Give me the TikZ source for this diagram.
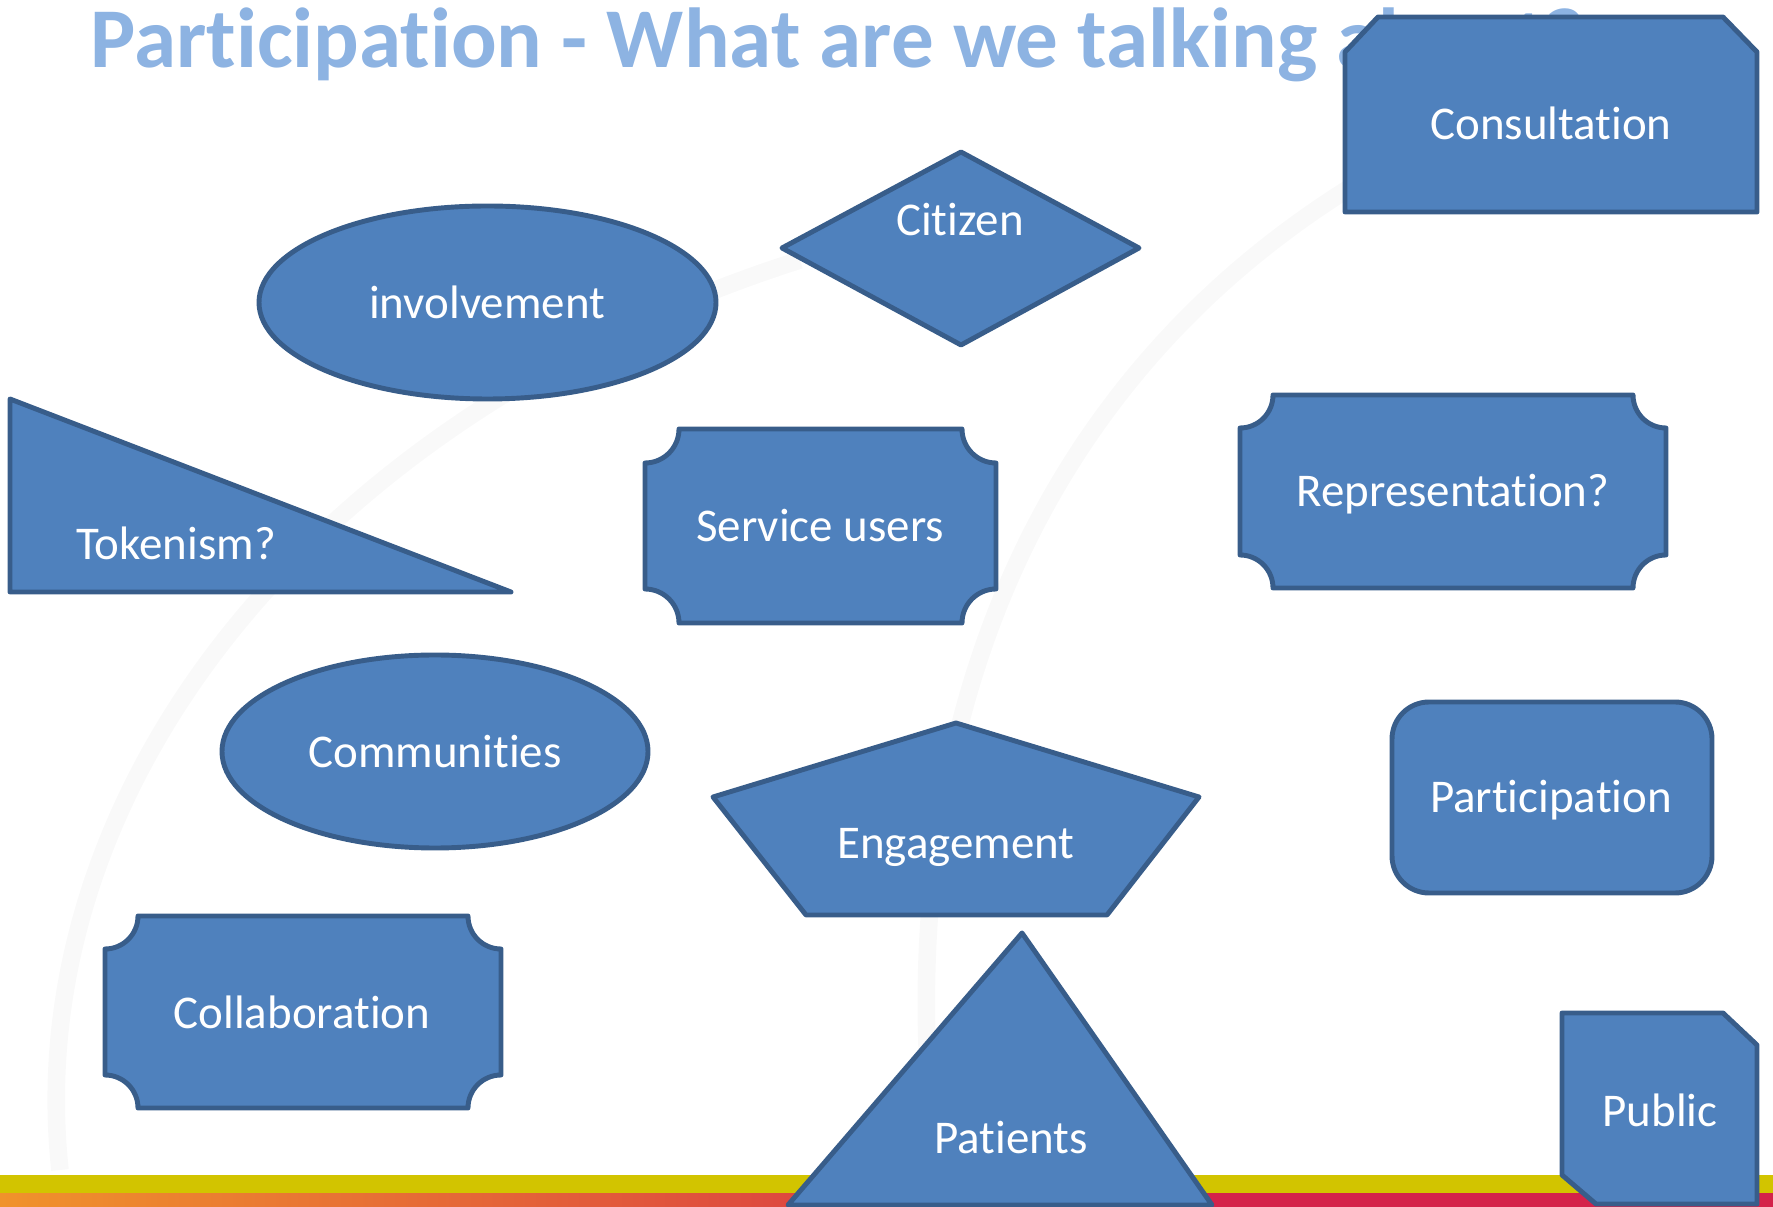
\documentclass[tikz,border=0pt]{standalone}
\usepackage{fontspec}
\setmainfont{Carlito}[Ligatures=NoCommon]
\usetikzlibrary{calc}
\usepackage{xcolor}
\definecolor{shapeblue}{HTML}{4F81BD}
\definecolor{shapeedge}{HTML}{385D8A}
\definecolor{titleblue}{HTML}{8DB3E2}
\definecolor{bandyellow}{HTML}{D2C400}
\definecolor{bandorange}{HTML}{F0922B}
\definecolor{bandred}{HTML}{D4234A}

% placa con esquinas concavas: [radio]{x1}{y1}{x2}{y2}
\newcommand{\plaque}[5][33]{%
  \draw[blob] (#2+#1,#3) -- (#4-#1,#3) arc (180:90:#1) -- (#4,#5-#1) arc (270:180:#1)
    -- (#2+#1,#5) arc (0:-90:#1) -- (#2,#3+#1) arc (90:0:#1) -- cycle;}

\begin{document}
\begin{tikzpicture}[
    x=0.01cm, y=-0.01cm,
    % Estilos de las formas
    blob/.style={
        fill=shapeblue,
        draw=shapeedge,
        line width=1.4pt,
        line join=round
    },
    % Estilos del texto
    word/.style={text=white, font=\fontsize{13.35}{16}\selectfont, anchor=base, inner sep=0pt},
    swirl/.style={draw=black!2.5, line width=5pt}
]
\useasboundingbox (0,0) rectangle (1773,1207);

% -- Fondo --
\draw[swirl] (60,1170) .. controls (20,800) and (300,420) .. (800,260);
\draw[swirl] (930,1100) .. controls (900,700) and (1050,300) .. (1500,110);

% -- Titulo --
\node[anchor=base west, inner sep=0pt, text=titleblue,
      font=\fontsize{24.2}{29}\selectfont\bfseries] (title) at (90,68)
      {Participation - What are we talking about?};

% -- Bandas inferiores --
\fill[bandyellow] (0,1175) rectangle (1773,1194);
\shade[left color=bandorange, right color=bandred] (0,1193) rectangle (1200,1207);
\fill[bandred] (1199,1193) rectangle (1773,1207);

% -- Fila Superior --
\draw[blob] (1345,52) -- (1378,17) -- (1723,17) -- (1757,52) -- (1757,212) -- (1345,212) -- cycle;
\node[word] (consultation) at (1551,140) {Consultation};

\draw[blob] (782,248) -- (961,152) -- (1139,248) -- (961,345) -- cycle;
\node[word] (citizen) at (960,236) {Citizen};

\draw[blob] (487.5,302.5) ellipse [x radius=228.5, y radius=96.5];
\node[word] (involvement) at (487,319) {involvement};

% -- Fila Central --
\draw[blob] (10,399) -- (511,592) -- (10,592) -- cycle;
\node[word] (tokenism) at (176,560) {Tokenism?};

\plaque[34]{645}{429}{996}{623}
\node[word] (service) at (820,542) {Service users};

\plaque{1240}{395}{1666}{588}
\node[word] (representation) at (1453,507) {Representation?};

\draw[blob] (435,751.5) ellipse [x radius=213, y radius=96.5];
\node[word] (communities) at (435,768) {Communities};

\draw[blob] (956,723) -- (1199,797) -- (1107,915) -- (806,915) -- (713,797) -- cycle;
\node[word] (engagement) at (956,858) {Engagement};

\draw[blob, rounded corners=0.37cm] (1392,702) rectangle (1712,893);
\node[word] (participation) at (1551,813) {Participation};

% -- Fila Inferior --
\plaque{105}{916}{501}{1108}
\node[word] (collaboration) at (302,1028) {Collaboration};

\draw[blob] (1022,933) -- (1212,1205) -- (788,1205) -- cycle;
\node[word] (patients) at (1011,1153) {Patients};

\draw[blob] (1562,1013) -- (1723,1013) -- (1757,1045) -- (1757,1204) -- (1596,1204) -- (1562,1175) -- cycle;
\node[word] (public) at (1660,1126) {Public};

\end{tikzpicture}
\end{document}
